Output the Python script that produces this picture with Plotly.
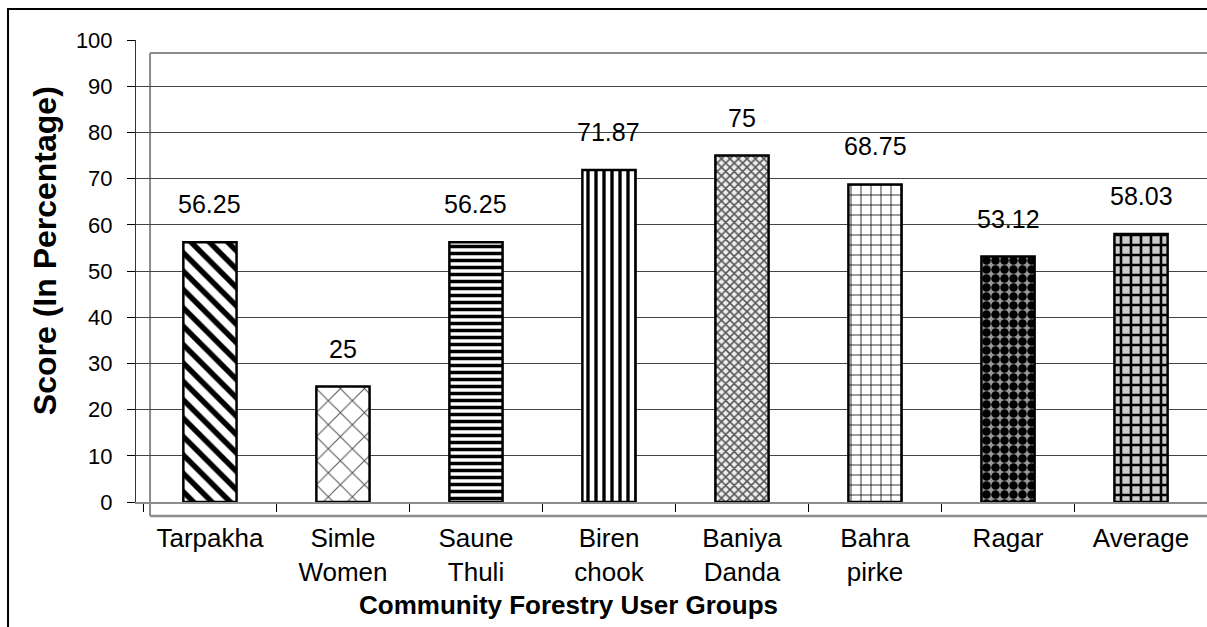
import plotly.graph_objects as go

# Community forestry user groups and their scores (%)
groups = ["Tarpakha", "Simle<br>Women", "Saune<br>Thuli", "Biren<br>chook",
          "Baniya<br>Danda", "Bahra<br>pirke", "Ragar", "Average"]
scores = [56.25, 25, 56.25, 71.87, 75, 68.75, 53.12, 58.03]
score_labels = ["56.25", "25", "56.25", "71.87", "75", "68.75", "53.12", "58.03"]
y_ticks = list(range(0, 101, 10))

# Monochrome fill patterns, one per bar
pattern_shapes = ["\\", "x", "-", "|", "x", "+", ".", "+"]
pattern_fg = ["#000000", "#555555", "#000000", "#000000", "#555555", "#000000", "#000000", "#000000"]
pattern_bg = ["#ffffff", "#ffffff", "#ffffff", "#ffffff", "#eeeeee", "#ffffff", "#999999", "#cccccc"]
pattern_size = [13, 17, 7, 8, 6, 10, 9, 10]
pattern_solidity = [0.42, 0.12, 0.5, 0.42, 0.45, 0.15, 0.7, 0.45]

FONT = "Liberation Sans, Arial, sans-serif"

fig = go.Figure()
fig.add_trace(go.Bar(
    x=groups,
    y=scores,
    width=0.4,
    marker=dict(
        color="white",
        line=dict(color="black", width=2.5),
        pattern=dict(
            shape=pattern_shapes,
            fgcolor=pattern_fg,
            bgcolor=pattern_bg,
            size=pattern_size,
            solidity=pattern_solidity,
            fillmode="replace",
        ),
    ),
    showlegend=False,
    hoverinfo="x+y",
))

# Value labels above each bar
for g, v, t in zip(groups, scores, score_labels):
    fig.add_annotation(x=g, y=v, text=t, showarrow=False, yanchor="middle",
                       yshift=38, font=dict(family=FONT, size=25, color="black"))

# Axis titles
fig.add_annotation(xref="paper", yref="paper", x=0.404, y=-0.223,
                   text="<b>Community Forestry User Groups</b>", showarrow=False,
                   xanchor="center", yanchor="middle",
                   font=dict(family=FONT, size=26, color="black"))
fig.add_annotation(xref="paper", yref="paper", x=-0.085, y=0.545,
                   text="<b>Score (In Percentage)</b>", showarrow=False, textangle=-90,
                   xanchor="center", yanchor="middle",
                   font=dict(family=FONT, size=32, color="black"))

shapes = [
    # outer chart frame
    dict(type="rect", xref="paper", yref="paper", x0=-0.1195, x1=1.02, y0=-0.35, y1=1.067,
         line=dict(color="black", width=2), fillcolor="rgba(0,0,0,0)", layer="below"),
    # back wall outline
    dict(type="line", xref="paper", yref="paper", x0=0.0131, x1=0.0131, y0=-0.0303, y1=0.972,
         line=dict(color="#8c8c8c", width=2), layer="below"),
    dict(type="line", xref="paper", yref="paper", x0=0.0131, x1=1.02, y0=0.972, y1=0.972,
         line=dict(color="#8c8c8c", width=2), layer="below"),
    dict(type="line", xref="paper", yref="paper", x0=0.0131, x1=1.02, y0=-0.0303, y1=-0.0303,
         line=dict(color="#8c8c8c", width=2.5), layer="below"),
]

fig.update_layout(
    width=1207, height=627,
    margin=dict(l=136, r=0, t=40, b=125),
    paper_bgcolor="white", plot_bgcolor="white",
    font=dict(family=FONT, color="black"),
    shapes=shapes,
    bargap=0.6,
)
fig.update_xaxes(
    range=[-0.556, 7.496],
    showline=True, linecolor="#8c8c8c", linewidth=2,
    ticks="outside", tickson="boundaries", ticklen=8, tickcolor="black", tickwidth=1,
    tickfont=dict(family=FONT, size=26, color="black"),
    ticklabelstandoff=12,
    showgrid=False, zeroline=False,
)
fig.update_yaxes(
    range=[0, 100], tickvals=y_ticks,
    showline=True, linecolor="#333333", linewidth=1,
    ticks="outside", ticklen=8, tickcolor="black", tickwidth=1,
    tickfont=dict(family=FONT, size=22, color="black"),
    ticklabelstandoff=10,
    showgrid=True, gridcolor="#444444", gridwidth=1,
    zeroline=False,
)

fig.write_html("out.html")
